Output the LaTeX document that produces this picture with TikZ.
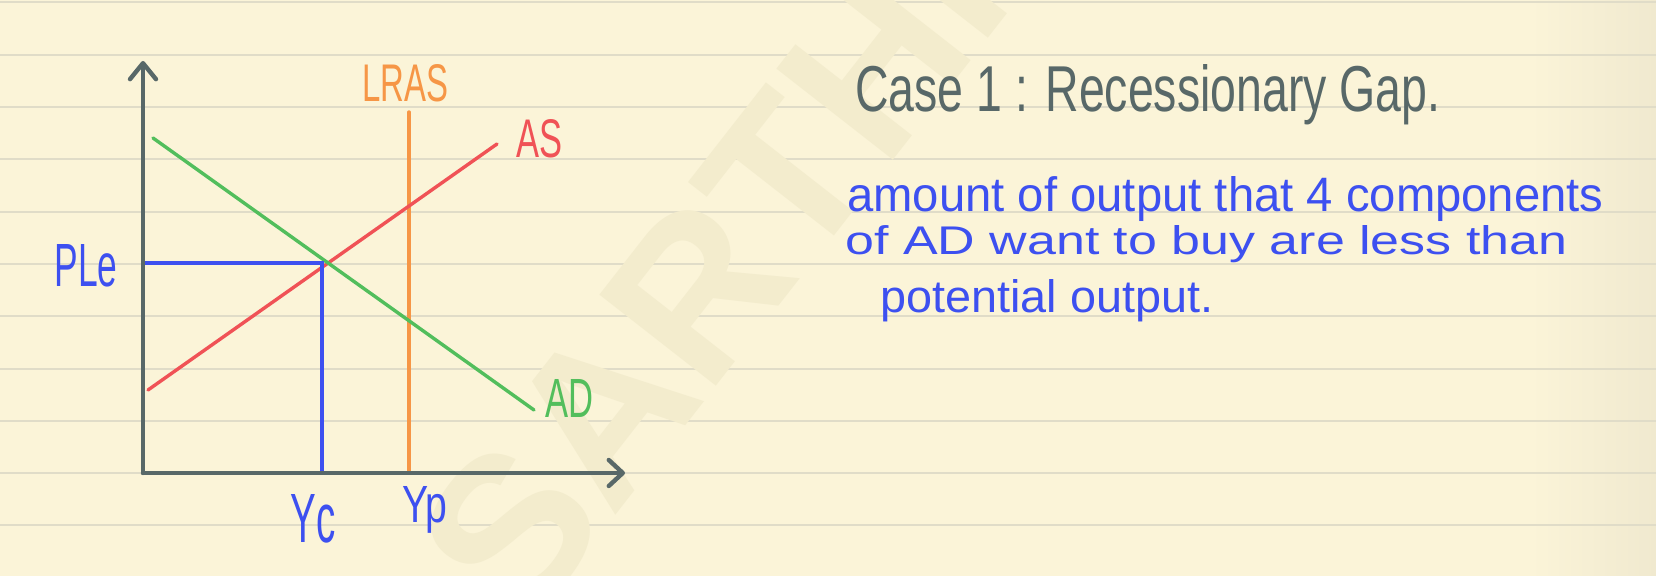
\documentclass[tikz,border=0pt]{standalone}
\usepackage{fontspec}
\usepackage{graphicx}
\setmainfont{Liberation Sans}
\usetikzlibrary{arrows.meta, positioning}

\definecolor{paper}{RGB}{251,244,216}
\definecolor{paperedge}{RGB}{240,233,207}
\definecolor{rule}{RGB}{224,220,200}
\definecolor{mark}{RGB}{243,236,205}
\definecolor{slate}{RGB}{88,104,104}
\definecolor{ink}{RGB}{61,80,240}
\definecolor{asred}{RGB}{240,82,86}
\definecolor{adgreen}{RGB}{82,190,92}
\definecolor{lrasorange}{RGB}{246,150,70}

% text squeezed to a given width and height (pt)
\newcommand{\hw}[3]{\resizebox{#1pt}{#2pt}{#3}}

\begin{document}
\begin{tikzpicture}[
        x=0.5pt, y=-0.5pt,
        line cap=round,
        axis/.style={draw=slate, line width=2.2pt},
        curve/.style={line width=1.7pt},
        guide/.style={draw=ink, line width=1.7pt},
        label/.style={inner sep=0pt, anchor=base west},
        barb/.style={-{Straight Barb[length=#1, width=13pt, line cap=round, line join=round]}}
    ]
    \useasboundingbox (0,0) rectangle (1656,576);

    % Paper
    \fill[paper] (0,0) rectangle (1656,576);
    \shade[left color=paper, right color=paperedge] (1530,0) rectangle (1656,576);
    \foreach \k in {0,...,10}
        \draw[rule, line width=1pt] (0,{2.5+52.3*\k}) -- (1656,{2.5+52.3*\k});
    \node[rotate=52, text=mark, inner sep=0pt] (mark) at (712,272)
        {\resizebox{400pt}{!}{\bfseries SARTHI}};

    % Points
    \coordinate (O) at (143,473);
    \coordinate (ytop) at (143,61);
    \coordinate (xend) at (625,473);
    \coordinate (as1) at (148,390);
    \coordinate (as2) at (497,144);
    \coordinate (ad1) at (153,138);
    \coordinate (ad2) at (534,410);
    \coordinate (lras1) at (409,112);
    \coordinate (lras2) at (409,473);
    \coordinate (pe) at (143,263);
    \coordinate (eq) at (322,263);
    \coordinate (ye) at (322,473);

    % Curves
    \draw[curve, lrasorange] (lras1) -- (lras2);
    \draw[curve, asred] (as1) -- (as2);
    \draw[curve, adgreen] (ad1) -- (ad2);
    \draw[guide] (pe) -- (eq) -- (ye);

    % Axes
    \draw[axis, barb=8pt] (O) -- (ytop);
    \draw[axis, barb=7pt] (O) -- (xend);

    % Labels
    \node[label, text=lrasorange] (lraslbl) at (362,102) {\hw{43}{18.5}{LRAS}};
    \node[label, text=asred] (aslbl) at (516,158) {\hw{23}{19}{AS}};
    \node[label, text=adgreen] (adlbl) at (545,418) {\hw{24}{19}{AD}};
    \node[label, text=ink] (plelbl) at (54,287) {\hw{31.5}{21}{PLe}};
    \node[label, text=ink] (yelbl) at (290,543) {\hw{22.5}{24}{Yc}};
    \node[label, text=ink] (yplbl) at (402,523) {\hw{22.5}{18}{Yp}};

    % Notes
    \node[label, text=slate] (title) at (855,112) {\hw{292.5}{23.5}{Case 1 : Recessionary Gap.}};
    \node[label, text=ink] (note1) at (847,212) {\hw{378}{17.5}{amount of output that 4 components}};
    \node[label, text=ink] (note2) at (845,255) {\hw{361}{14.5}{of AD want to buy are less than}};
    \node[label, text=ink] (note3) at (880,313) {\hw{166.5}{16.5}{potential output.}};
\end{tikzpicture}
\end{document}
